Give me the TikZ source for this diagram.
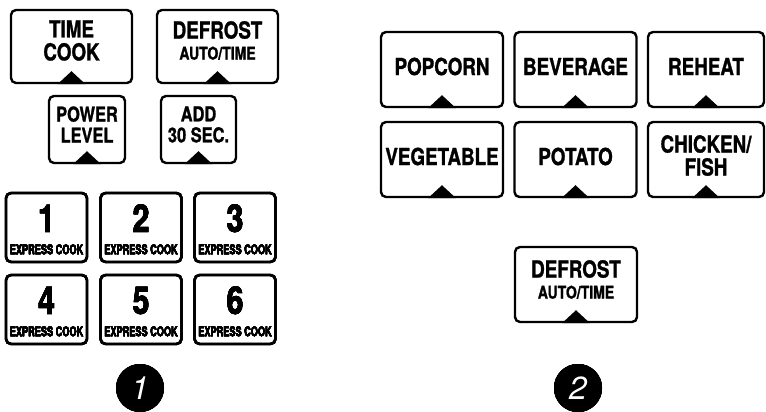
\documentclass[tikz,border=0pt]{standalone}
\usepackage{fontspec}
\newfontfamily\keyfont{TeX Gyre Heros}[FakeStretch=0.8, FakeBold=1.2]
\newfontfamily\smallfont{TeX Gyre Heros}[FakeStretch=0.68, FakeBold=0.8]
\newfontfamily\tagfont{TeX Gyre Heros}
\tikzset{
  keybox/.style={draw, line width=2.4pt, rounded corners=5pt, inner sep=0pt},
  wide/.style={keybox, minimum width=122pt, minimum height=75pt},
  numkey/.style={keybox, minimum width=81pt, minimum height=69pt},
  lbl/.style={align=center, inner sep=0pt, font=\keyfont\bfseries\fontsize{23.5}{23}\selectfont},
  tag/.style={circle, fill=black, minimum size=48pt, inner sep=0pt, text=white,
    font=\tagfont\itshape\fontsize{32}{32}\selectfont}
}
% small black pointer under a key
\newcommand\keymark[1]{\fill (#1.south) ++(-14,0) -- ++(14,-13) -- ++(14,13) -- cycle;}
\begin{document}
\begin{tikzpicture}[x=1pt, y=-1pt]
    \useasboundingbox (0,0) rectangle (766,412);
    % panel 1
    \node[keybox, minimum width=121pt, minimum height=73pt] (timecook) at (71.5,46.5) {};
    \node[keybox, minimum width=121pt, minimum height=73pt] (defrostA) at (217.5,46.5) {};
    \node[keybox, minimum width=76pt, minimum height=67pt] (power) at (87,129.5) {};
    \node[keybox, minimum width=75pt, minimum height=67pt] (addsec) at (198.5,129.5) {};
    \node[lbl] (timecook-l) at ([yshift=6pt]timecook.center) {TIME\\COOK};
    \node[lbl] (defrostA-l) at ([yshift=6pt]defrostA.center)
      {DEFROST\\[-2pt]{\fontsize{17.5}{17}\selectfont AUTO/TIME}};
    \node[lbl, font=\keyfont\bfseries\fontsize{20.5}{21}\selectfont] (power-l)
      at ([yshift=5pt]power.center) {POWER\\LEVEL};
    \node[lbl, font=\keyfont\bfseries\fontsize{20.5}{21}\selectfont] (addsec-l)
      at ([yshift=5pt]addsec.center) {ADD\\30 SEC.};
    \foreach \k in {timecook,defrostA,power,addsec}
      \keymark{\k}
    \foreach \n/\x/\y in {1/46.5/227.5, 2/141/227.5, 3/235/227.5,
                          4/46.5/309.5, 5/141/309.5, 6/235/309.5} {
      \node[numkey] (k\n) at (\x,\y) {};
      \node[lbl, anchor=base, font=\keyfont\bfseries\fontsize{38}{38}\selectfont]
        (k\n-d) at ([yshift=-40pt]k\n.north) {\n};
      \node[lbl, anchor=base, font=\smallfont\bfseries\fontsize{13.5}{13.5}\selectfont]
        (k\n-e) at ([yshift=9pt]k\n.south) {EXPRESS COOK};
    }
    \node[tag] (tag1) at (140,388) {1};
    % panel 2
    \node[wide] (popcorn) at (442,69.5) {};
    \node[wide] (beverage) at (575.5,69.5) {};
    \node[wide, minimum width=116pt] (reheat) at (706,69.5) {};
    \node[wide] (vegetable) at (442,159.5) {};
    \node[wide] (potato) at (575.5,159.5) {};
    \node[wide, minimum width=116pt] (chicken) at (706,159.5) {};
    \node[wide] (defrostB) at (576,284.5) {};
    \node[lbl] (popcorn-l) at ([yshift=3pt]popcorn.center) {POPCORN};
    \node[lbl] (beverage-l) at ([yshift=3pt]beverage.center) {BEVERAGE};
    \node[lbl] (reheat-l) at ([yshift=3pt]reheat.center) {REHEAT};
    \node[lbl] (vegetable-l) at ([yshift=3pt]vegetable.center) {VEGETABLE};
    \node[lbl] (potato-l) at ([yshift=3pt]potato.center) {POTATO};
    \node[lbl] (chicken-l) at ([yshift=4pt]chicken.center) {CHICKEN/\\FISH};
    \node[lbl] (defrostB-l) at ([yshift=5pt]defrostB.center)
      {DEFROST\\[-2pt]{\fontsize{17.5}{17}\selectfont AUTO/TIME}};
    \foreach \k in {popcorn,beverage,reheat,vegetable,potato,chicken,defrostB}
      \keymark{\k}
    \node[tag] (tag2) at (578,388) {2};
\end{tikzpicture}
\end{document}
